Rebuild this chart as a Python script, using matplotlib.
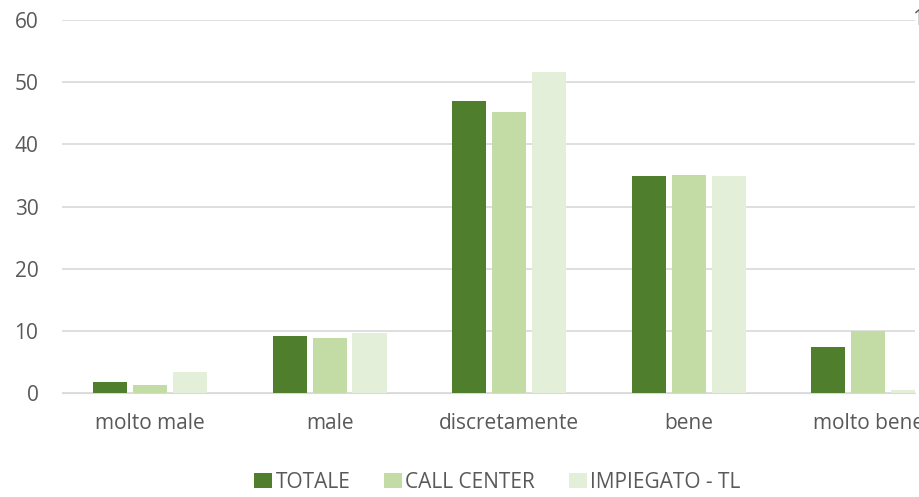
import matplotlib.pyplot as plt
import numpy as np

plt.rcParams['font.family'] = ['Open Sans', 'DejaVu Sans']

categorie = ['molto male', 'male', 'discretamente', 'bene', 'molto bene']
totale = [1.8, 9.2, 47.0, 34.9, 7.4]
call_center = [1.3, 8.8, 45.2, 35.1, 10.0]
impiegato = [3.4, 9.6, 51.6, 34.9, 0.5]
serie = ['TOTALE', 'CALL CENTER', 'IMPIEGATO - TL']
colori = ['#4f7f2c', '#c3dca6', '#e3efd9']

fig = plt.figure(figsize=(9.19, 4.97), dpi=100)
ax = fig.add_axes([0.0675, 0.209, 0.9281, 0.751])

x = np.arange(len(categorie))
w = 0.19
for i, (vals, nome, c) in enumerate(zip([totale, call_center, impiegato], serie, colori)):
    ax.bar(x + (i - 1) * 0.222, vals, w, color=c, label=nome, zorder=3)

ax.set_xlim(-0.49, 4.26)
ax.set_ylim(0, 60)
ax.set_yticks(range(0, 61, 10))
ax.set_xticks(x)
ax.set_xticklabels(categorie)
ax.grid(axis='y', color='#d9d9d9', linewidth=1.2, zorder=0)
for s in ['top', 'right', 'left']:
    ax.spines[s].set_visible(False)
ax.spines['bottom'].set_color('#d9d9d9')
ax.tick_params(length=0, colors='#595959', labelsize=15)
ax.tick_params(axis='y', pad=17)
ax.tick_params(axis='x', pad=14)

fig.text(0.992, 0.96, '1', color='#595959', fontsize=15, va='center', ha='left')

fig.legend(loc='center', bbox_to_anchor=(0.541, 0.03), ncol=3, frameon=False,
           fontsize=15, handlelength=0.9, handleheight=0.7, handletextpad=0.15,
           columnspacing=1.6, labelcolor='#595959')

plt.savefig('out.png', dpi=100)
